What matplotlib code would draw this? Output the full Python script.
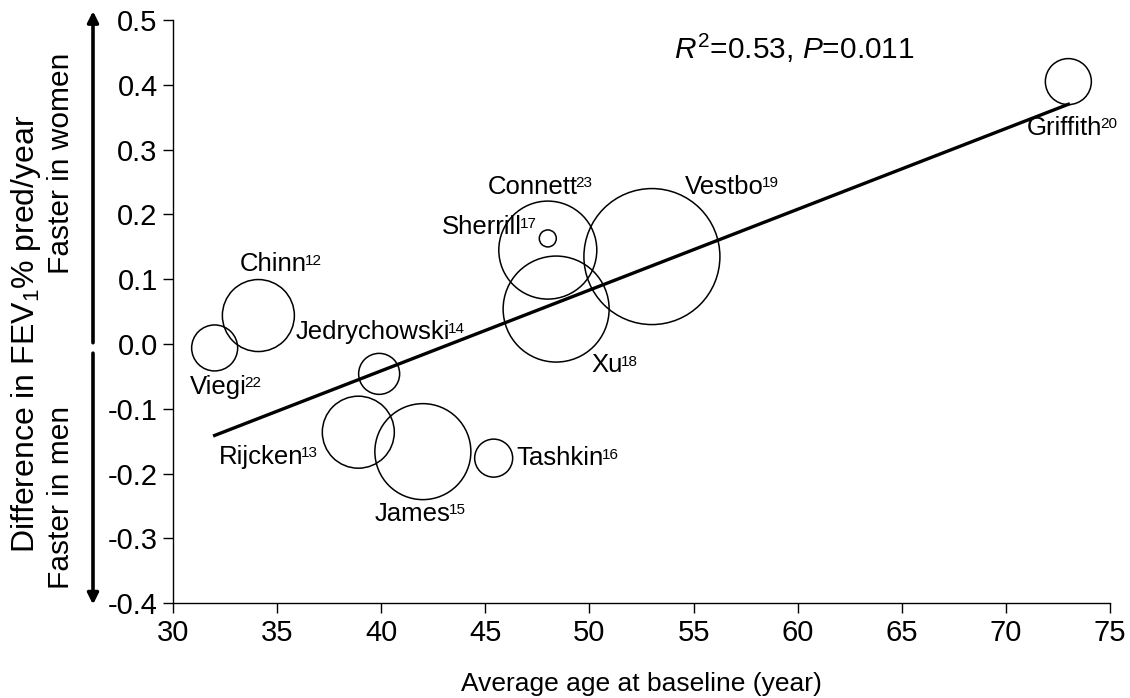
import matplotlib
matplotlib.use("Agg")
import matplotlib.pyplot as plt
from matplotlib.patches import FancyArrowPatch

plt.rcParams['font.family'] = ['Liberation Sans', 'DejaVu Sans']
plt.rcParams['mathtext.fontset'] = 'custom'
plt.rcParams['mathtext.rm'] = 'Liberation Sans'
plt.rcParams['mathtext.it'] = 'Liberation Sans:italic'

# studies: author, reference number, mean age at baseline, sex difference, bubble weight
studies = ['Griffith', 'Vestbo', 'Connett', 'Sherrill', 'Xu', 'Chinn',
           'Viegi', 'Jedrychowski', 'Rijcken', 'James', 'Tashkin']
refs = ['20', '19', '23', '17', '18', '12', '22', '14', '13', '15', '16']
age = [73.0, 53.0, 48.0, 48.0, 48.4, 34.1, 32.0, 39.9, 38.9, 42.0, 45.4]
diff = [0.405, 0.135, 0.145, 0.163, 0.054, 0.044, -0.006, -0.046, -0.136, -0.166, -0.176]
weight = [23, 68, 49, 8.5, 53, 36, 23, 20.5, 36, 48, 19]

# label anchor (left, centre) for each study
label_x = [71.0, 54.6, 45.1, 42.9, 50.1, 33.2, 30.8, 35.9, 32.2, 39.7, 46.5]
label_y = [0.334, 0.243, 0.243, 0.180, -0.033, 0.123, -0.066, 0.018, -0.174, -0.262, -0.176]

# regression line end points
fit_x = [32.0, 73.0]
fit_y = [-0.141, 0.370]

xticks = list(range(30, 80, 5))
yticks = [0.5, 0.4, 0.3, 0.2, 0.1, 0.0, -0.1, -0.2, -0.3, -0.4]

fig = plt.figure(figsize=(11.3, 6.98), dpi=100)
ax = fig.add_axes([0.1531, 0.1357, 0.8292, 0.8356])

# bubble radius given in pixels -> marker area in points^2
sizes = [(2 * w * 0.72) ** 2 for w in weight]
ax.scatter(age, diff, s=sizes, facecolors='none', edgecolors='black', linewidths=1.1, zorder=2)
ax.plot(fit_x, fit_y, color='black', lw=2.4, zorder=3)

for name, r, lx, ly in zip(studies, refs, label_x, label_y):
    t = ax.text(lx, ly, name, fontsize=18.5, va='center', ha='left')
    ax.annotate(r, xy=(1, 1), xycoords=t, xytext=(-1.5, -1), textcoords='offset points',
                fontsize=11, va='top', ha='left')

ax.text(54.05, 0.456, '$R^{2}$=0.53, $P$=0.011', fontsize=21.5, va='center', ha='left')

ax.set_xlim(30, 75)
ax.set_ylim(-0.4, 0.5)
ax.set_xticks(xticks)
ax.set_yticks(yticks)
ax.set_yticklabels(['%.1f' % v for v in yticks], fontsize=21)
ax.set_xticklabels([str(v) for v in xticks], fontsize=21)
ax.tick_params(direction='out', length=7, width=1, pad=4)
for side in ['top', 'right']:
    ax.spines[side].set_visible(False)
ax.spines['left'].set_linewidth(1)
ax.spines['bottom'].set_linewidth(1)

ax.set_xlabel('Average age at baseline (year)', fontsize=19, labelpad=18)

fig.text(0.023, 0.5215, 'Difference in FEV$_1$% pred/year', rotation=90, fontsize=23,
         ha='center', va='center')
fig.text(0.054, 0.766, 'Faster in women', rotation=90, fontsize=21.5,
         ha='center', va='center')
fig.text(0.054, 0.288, 'Faster in men', rotation=90, fontsize=21.5,
         ha='center', va='center')

up = FancyArrowPatch((0.0823, 0.505), (0.0823, 0.988), transform=fig.transFigure,
                     arrowstyle='-|>', mutation_scale=16, lw=2.6, color='black')
down = FancyArrowPatch((0.0823, 0.498), (0.0823, 0.130), transform=fig.transFigure,
                       arrowstyle='-|>', mutation_scale=16, lw=2.6, color='black')
fig.add_artist(up)
fig.add_artist(down)

fig.savefig('out.png', dpi=100)
